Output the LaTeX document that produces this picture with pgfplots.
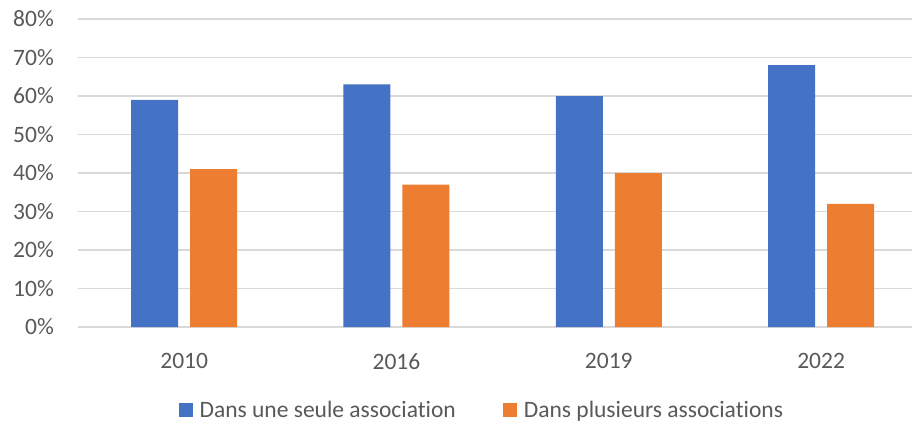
\documentclass[border=0pt]{standalone}
\usepackage{pgfplots}
\pgfplotsset{compat=1.18}
\usepackage{fontspec}
\setmainfont[Ligatures=NoCommon]{Carlito}
\definecolor{xlblue}{HTML}{4472C4}
\definecolor{xlorange}{HTML}{ED7D31}
\definecolor{xlgrid}{HTML}{D9D9D9}
\definecolor{xltext}{HTML}{595959}
\begin{document}
\begin{tikzpicture}
\useasboundingbox (0,0) rectangle (912pt,423pt);
\begin{axis}[
  at={(78pt,96pt)}, anchor=south west,
  scale only axis, width=834pt, height=308pt,
  xmin=-0.5, xmax=3.428, ymin=0, ymax=80,
  ybar=12pt, bar width=47pt,
  axis line style={draw=none},
  major tick length=0pt,
  xtick={0,1,2,3}, xticklabels={2010,2016,2019,2022},
  ytick={0,10,...,80},
  yticklabels={0\%,10\%,20\%,30\%,40\%,50\%,60\%,70\%,80\%},
  ymajorgrids, grid style={xlgrid, line width=1.3pt},
  tick label style={font=\fontsize{23.5}{26}\selectfont, text=xltext, inner sep=0pt},
  yticklabel style={anchor=east, xshift=-24pt},
  xticklabel style={anchor=north, yshift=-26pt},
  legend columns=2,
  legend style={draw=none, inner sep=0pt, at={(0.483,-0.27)}, anchor=center,
    font=\fontsize{23.5}{26}\selectfont, text=xltext,
    nodes={inner sep=0pt},
    /tikz/every odd column/.append style={column sep=7pt},
    /tikz/every even column/.append style={column sep=47pt}},
  legend image code/.code={\fill[#1] (0pt,-7pt) rectangle (14pt,7pt);},
]
\addplot[fill=xlblue, draw=none] coordinates {(0,59) (1,63) (2,60) (3,68)};
\addplot[fill=xlorange, draw=none] coordinates {(0,41) (1,37) (2,40) (3,32)};
\legend{Dans une seule association, Dans plusieurs associations}
\end{axis}
\end{tikzpicture}
\end{document}
